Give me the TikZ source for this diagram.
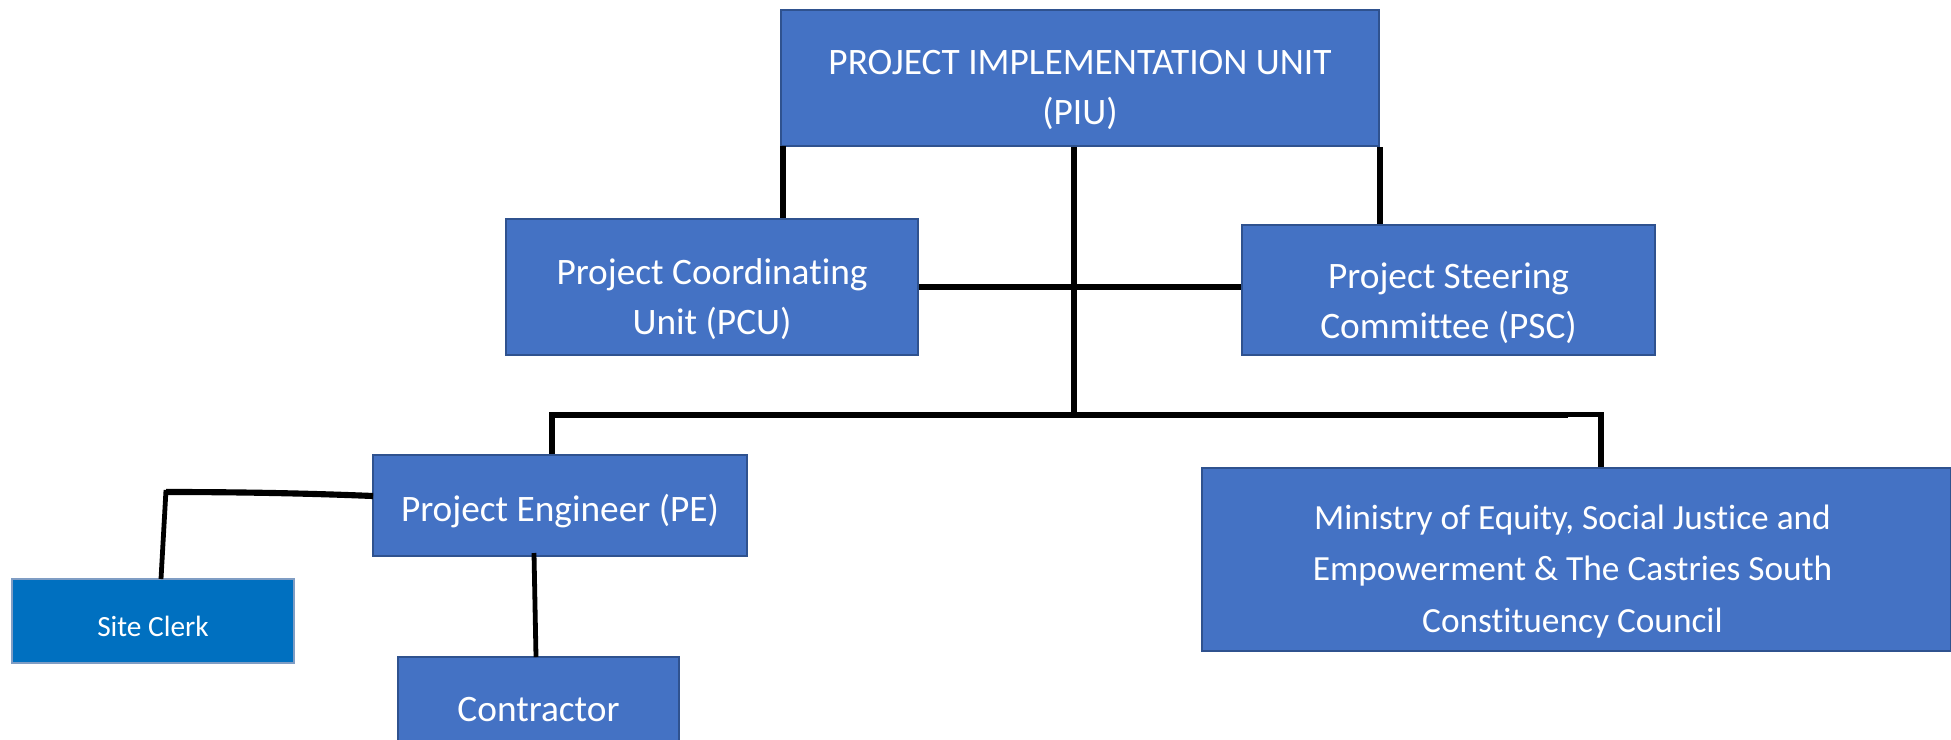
\documentclass[tikz,border=0pt]{standalone}
\usepackage{fontspec}
\setmainfont[Ligatures=NoCommon]{Carlito}
\usetikzlibrary{calc}
\definecolor{boxfill}{HTML}{4472C4}
\definecolor{boxline}{HTML}{2F528F}
\definecolor{clerkfill}{HTML}{0070C0}
\definecolor{clerkline}{HTML}{7F9DC4}
\tikzset{
  orgbox/.style={rectangle, draw=boxline, fill=boxfill, line width=1.5pt, inner sep=0pt},
  clerkbox/.style={rectangle, draw=clerkline, fill=clerkfill, line width=1.5pt, inner sep=0pt},
  boxtext/.style={text=white, align=center, inner sep=0pt, font=\fontsize{28}{37.5}\selectfont},
  smalltext/.style={text=white, align=center, inner sep=0pt, font=\fontsize{22}{26}\selectfont},
  bartlink/.style={draw=black, line width=5.2pt},
  link/.style={draw=black, line width=4.3pt},
  thinlink/.style={draw=black, line width=3.6pt},
}
\begin{document}
\begin{tikzpicture}[x=0.75pt,y=-0.75pt]
\clip (0,0) rectangle (1951,739);
\fill[white] (0,0) rectangle (1951,739);

% boxes
\node[orgbox, minimum width=598*0.75pt, minimum height=136*0.75pt] (piu) at (1080,78) {};
\node[orgbox, minimum width=412*0.75pt, minimum height=136*0.75pt] (pcu) at (712,287) {};
\node[orgbox, minimum width=413*0.75pt, minimum height=130*0.75pt] (psc) at (1448.5,290) {};
\node[orgbox, minimum width=374*0.75pt, minimum height=101*0.75pt] (pe) at (560,505) {};
\node[clerkbox, minimum width=282*0.75pt, minimum height=84*0.75pt] (sc) at (153,621) {};
\node[orgbox, minimum width=281*0.75pt, minimum height=104*0.75pt] (con) at (538.5,709) {};
\node[orgbox, minimum width=749*0.75pt, minimum height=183*0.75pt] (min) at (1576.5,559.5) {};

% texts
\node[boxtext] (piut) at ($(piu.center)+(0,12)$) {PROJECT IMPLEMENTATION UNIT\\(PIU)};
\node[boxtext] (pcut) at ($(pcu.center)+(0,12)$) {Project Coordinating\\Unit (PCU)};
\node[boxtext] (psct) at ($(psc.center)+(0,13)$) {Project Steering\\Committee (PSC)};
\node[boxtext] (pet) at ($(pe.center)+(0,6)$) {Project Engineer (PE)};
\node[smalltext] (sct) at ($(sc.center)+(0,5)$) {Site Clerk};
\node[boxtext] (cont) at ($(con.center)+(0,1)$) {Contractor};
\node[boxtext, font=\fontsize{26.5}{38.4}\selectfont] (mint) at ($(min.center)+(-4,12)$)
  {Ministry of Equity, Social Justice and\\Empowerment \& The Castries South\\Constituency Council};

% junction coordinates
\coordinate (jl) at (783,146);
\coordinate (jm) at (1074,415);
\coordinate (barL) at (552,415);
\coordinate (barR) at (1568,415);
\coordinate (stepR) at (1601,414.2);
\coordinate (scA) at (373,496);
\coordinate (scB) at (166,492);
\coordinate (scC) at (161,579);
\coordinate (coA) at (534,553);
\coordinate (coB) at (536,657);

% PIU drops
\draw[link] (jl) -- (jl |- pcu.north);
\draw[link] (jm |- piu.south) -- (jm);
\draw[link] (piu.south east) -- (piu.south east |- psc.north);
% PCU - PSC
\draw[link] (pcu.east) -- (pcu.east -| psc.west);
% bottom bar
\draw[bartlink] ([xshift=-1.6pt]barL) -- (barR);
\draw[thinlink] (barR |- stepR) -- ([xshift=1.6pt]stepR);
\draw[link] ([yshift=1.3pt]stepR) -- (stepR |- min.north);
\draw[link] ([yshift=1.9pt]barL) -- (barL |- pe.north);
% PE to site clerk
\draw[line width=4.6pt] (scA) .. controls (300,493) and (230,492) .. (scB);
\draw[thinlink] ([yshift=1.5pt]scB) -- (scC);
% PE to contractor
\draw[thinlink] (coA) -- (coB);
\end{tikzpicture}
\end{document}
